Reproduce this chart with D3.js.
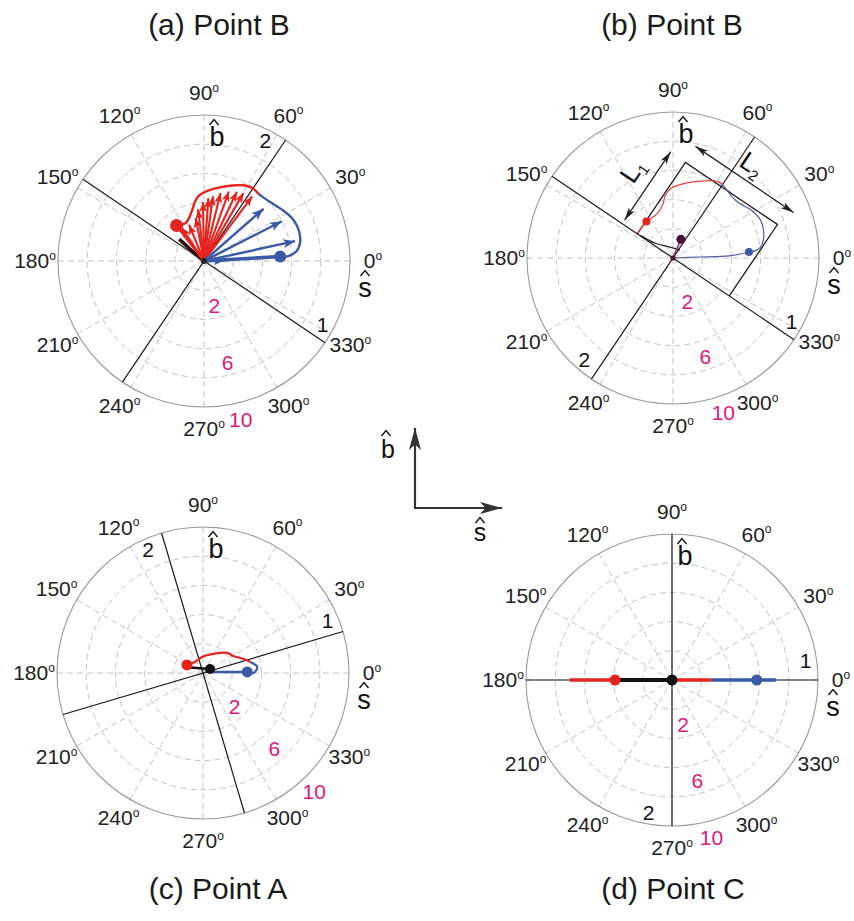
<!DOCTYPE html>
<html><head><meta charset="utf-8">
<script src="https://cdn.jsdelivr.net/npm/d3@7"></script>
<style>body{margin:0;background:#fff} svg{display:block} text{font-family:"Liberation Sans",Arial,sans-serif}</style>
</head><body><svg id="c" width="854" height="921"></svg>
<script>
// ---------------- data ----------------
const angleTicks = d3.range(0, 360, 30);
const ringValues = [2, 4, 6, 8];
const ringLabelValues = [2, 6, 10];
const panelTitles = ["(a) Point B", "(b) Point B", "(c) Point A", "(d) Point C"];
// principal directions (deg) per panel: [line "1", line "2"]
const dirA = [146, 56], dirB = [146, 56], dirC = [16.5, 106.5], dirD = [0, 90];
// label positions (deg) for "1" and "2"
const lblA = [-28.5, 63], lblB = [-28.5, 229], lblC = [22.7, 114], lblD = [8.2, 260];
// panel (a): vectors in (s,b) components
const aRedTips = [[-1.55,2.30],[-1.02,2.49],[-0.57,2.95],[-0.40,3.55],[-0.07,4.04],[0.30,4.30],[0.62,4.45],[1.13,4.65],[1.70,4.76],[2.25,4.74],[2.70,4.65],[3.30,4.42]];
const aBlueTips = [[1.47,0.05],[4.08,3.58],[5.33,2.72],[6.24,1.36]];
const aRedEnvelope = [[-1.88,2.43],[-1.25,2.61],[-0.84,3.40],[-0.61,4.08],[-0.34,4.49],[0.23,4.81],[1.02,5.03],[1.93,5.17],[2.83,5.17],[3.40,4.94],[3.74,4.58]];
const aBlueEnvelope = [[3.74,4.58],[4.53,4.04],[5.44,3.45],[6.12,2.83],[6.51,2.04],[6.58,1.25],[6.35,0.68],[5.78,0.34],[5.22,0.27]];
const aBlackCurve = [[-1.7,1.5],[-1.1,0.95],[-0.5,0.4],[0,0]];
const aRedDot = [-1.88, 2.43], aBlueDot = [5.22, 0.30];
// panel (b)
const bRedCurve = [[-2.43,1.69],[-1.82,2.50],[-1.08,3.04],[-0.68,3.72],[-0.54,4.26],[-0.20,4.73],[0.95,5.14],[2.03,5.27],[2.97,5.27],[3.38,5.07]];
const bBlueCurve = [[3.38,5.07],[4.32,3.92],[5.41,3.24],[6.01,2.57],[6.22,1.69],[6.08,0.88],[5.74,0.54],[5.20,0.41]];
const bBlueLine = [[0,0],[1.82,0.07],[3.85,0.14],[5.20,0.41]];
const bBlackCurve = [[-2.23,1.55],[-1.22,1.01],[-0.2,0.74],[0.47,0.54]];
const bRedDot = [-1.82, 2.50], bBlueDot = [5.20, 0.41], bDarkDot = [0.54, 1.28];
// (b) box in the rotated frame: v along line "1" (326 deg), u along line "2" (56 deg)
const bBoxV = [-2.95, 4.65], bBoxU = [0, 5.9];
const bL1 = {v: -4.2, u: [0.3, 5.95]}, bL2 = {u: 7.2, v: [-3.0, 5.1]};
// panel (c)
const cRedCurve = [[-1.10,0.55],[-0.55,0.75],[-0.07,1.10],[0.69,1.31],[1.66,1.38],[2.07,1.17],[2.76,0.97],[3.24,0.76]];
const cBlueCurve = [[3.24,0.76],[3.72,0.41],[3.45,0.0],[3.03,0.07]];
const cBlueLine = [[0.48,0.07],[3.03,0.07]];
const cBlackLine = [[-1.10,0.40],[0.48,0.28]];
const cRedDot = [-1.10, 0.55], cBlackDot = [0.48, 0.28], cBlueDot = [3.03, 0.07];
// panel (d)
const dRedLine = [[-7.0,0],[2.7,0]], dBlueLine = [[2.7,0],[7.1,0]], dBlackLine = [[-3.9,0],[0,0]];
const dRedDot = [-3.9, 0], dBlackDot = [0, 0], dBlueDot = [5.8, 0];

// ---------------- drawing ----------------
const RED = "#e5231f", BLUE = "#3b5aa6", BLACK = "#111", MAG = "#dc1780";
const R = 146;
const svg = d3.select("#c");
const defs = svg.append("defs");
function marker(id, color, len, wid) {
  defs.append("marker").attr("id", id).attr("viewBox", `0 0 ${len} ${wid}`)
    .attr("refX", len).attr("refY", wid / 2).attr("markerWidth", len).attr("markerHeight", wid)
    .attr("markerUnits", "userSpaceOnUse").attr("orient", "auto-start-reverse")
    .append("path").attr("d", `M0,0L${len},${wid/2}L0,${wid}L${len*0.25},${wid/2}Z`).attr("fill", color);
}
marker("arR", RED, 10, 8); marker("arB", BLUE, 12, 9); marker("arK", "#222", 13, 7); marker("arBig", "#333", 22, 12);

function hatText(g, x0, base, letter, size, hx, hy) {
  g.append("text").attr("x", x0).attr("y", base).attr("text-anchor", "middle")
    .attr("font-size", size).attr("fill", BLACK).text(letter);
  g.append("path").attr("d", `M${hx-4.5},${hy+3}L${hx},${hy-2.5}L${hx+4.5},${hy+3}`)
    .attr("fill", "none").attr("stroke", BLACK).attr("stroke-width", 1.4);
}

function panel(cx, cy, title, tx, ty, dirs, lbls, ringLblAng) {
  const g = svg.append("g");
  const x = d3.scaleLinear().domain([-10, 10]).range([cx - R, cx + R]);
  const y = d3.scaleLinear().domain([-10, 10]).range([cy + R, cy - R]);
  const rs = d3.scaleLinear().domain([0, 10]).range([0, R]);
  const pol = (a, r) => [x(r * Math.cos(a * Math.PI / 180)), y(r * Math.sin(a * Math.PI / 180))];
  // grid
  g.selectAll(".ring").data(ringValues).join("circle").attr("cx", cx).attr("cy", cy)
    .attr("r", d => rs(d)).attr("fill", "none").attr("stroke", "#c2c2c2").attr("stroke-dasharray", "6,4");
  g.selectAll(".spoke").data(angleTicks).join("line")
    .attr("x1", cx).attr("y1", cy).attr("x2", d => pol(d, 10)[0]).attr("y2", d => pol(d, 10)[1])
    .attr("stroke", "#c2c2c2").attr("stroke-dasharray", "6,4");
  g.append("circle").attr("cx", cx).attr("cy", cy).attr("r", rs(10)).attr("fill", "none").attr("stroke", "#9a9a9a").attr("stroke-width", 1.1);
  // angle labels
  const al = g.selectAll(".al").data(angleTicks).join("text")
    .attr("x", d => cx + (R + 23) * Math.cos(d * Math.PI / 180))
    .attr("y", d => cy - (R + 22) * Math.sin(d * Math.PI / 180) + 7)
    .attr("text-anchor", "middle").attr("font-size", 21).attr("fill", "#222");
  al.append("tspan").text(d => d);
  al.append("tspan").attr("font-size", 12).attr("dy", "-0.7em").text("o");
  // ring labels
  g.selectAll(".rl").data(ringLabelValues).join("text")
    .attr("x", d => cx + (rs(d) + 17) * Math.cos(ringLblAng * Math.PI / 180))
    .attr("y", d => cy - (rs(d) + 17) * Math.sin(ringLblAng * Math.PI / 180) + 7)
    .attr("text-anchor", "middle").attr("font-size", 21).attr("fill", MAG).text(d => d);
  // principal lines
  g.selectAll(".pl").data(dirs).join("line")
    .attr("x1", d => pol(d, 10)[0]).attr("y1", d => pol(d, 10)[1])
    .attr("x2", d => pol(d + 180, 10)[0]).attr("y2", d => pol(d + 180, 10)[1])
    .attr("stroke", "#1a1a1a").attr("stroke-width", 1.2);
  g.selectAll(".plab").data(lbls).join("text")
    .attr("x", d => pol(d, 9.25)[0]).attr("y", d => pol(d, 9.25)[1] + 7)
    .attr("text-anchor", "middle").attr("font-size", 21).attr("fill", BLACK).text((d, i) => i + 1);
  // axis labels
  hatText(g, cx + 13, cy - 115, "b", 27, cx + 10, cy - 139);
  hatText(g, cx + 161, cy + 36, "s", 27, cx + 161, cy + 12);
  // title
  svg.append("text").attr("x", tx).attr("y", ty).attr("text-anchor", "middle")
    .attr("font-size", 30).attr("fill", "#1a1a1a").text(title);
  return {g, x, y};
}
const line = (x, y, curve) => d3.line().x(d => x(d[0])).y(d => y(d[1])).curve(curve || d3.curveCatmullRom.alpha(0.5));
function dot(g, x, y, p, r, c) { g.append("circle").attr("cx", x(p[0])).attr("cy", y(p[1])).attr("r", r).attr("fill", c); }

// ---- (a)
{
  const {g, x, y} = panel(204, 261, panelTitles[0], 219, 35, dirA, lblA, -77);
  g.append("path").attr("d", line(x, y)(aBlackCurve)).attr("fill", "none").attr("stroke", "#2a1010").attr("stroke-width", 3.5);
  g.selectAll(".ra").data(aRedTips).join("line").attr("x1", x(0)).attr("y1", y(0))
    .attr("x2", d => x(d[0])).attr("y2", d => y(d[1])).attr("stroke", RED).attr("stroke-width", 2.1).attr("marker-end", "url(#arR)");
  g.selectAll(".ba").data(aBlueTips).join("line").attr("x1", x(0)).attr("y1", y(0))
    .attr("x2", d => x(d[0])).attr("y2", d => y(d[1])).attr("stroke", BLUE).attr("stroke-width", 2.4).attr("marker-end", "url(#arB)");
  g.append("line").attr("x1", x(0)).attr("y1", y(0)).attr("x2", x(aBlueDot[0])).attr("y2", y(aBlueDot[1])).attr("stroke", BLUE).attr("stroke-width", 3.5);
  g.append("path").attr("d", line(x, y)(aRedEnvelope)).attr("fill", "none").attr("stroke", RED).attr("stroke-width", 2.4);
  g.append("path").attr("d", line(x, y)(aBlueEnvelope)).attr("fill", "none").attr("stroke", BLUE).attr("stroke-width", 2.4);
  g.append("line").attr("x1", x(0)).attr("y1", y(0)).attr("x2", x(aRedDot[0])).attr("y2", y(aRedDot[1])).attr("stroke", RED).attr("stroke-width", 2.5);
  dot(g, x, y, aRedDot, 6.5, RED); dot(g, x, y, aBlueDot, 6, BLUE);
  dot(g, x, y, [0, 0], 3, "#222");
}
// ---- (b)
{
  const {g, x, y} = panel(673, 258, panelTitles[1], 672, 35, dirB, lblB, -72);
  const th = 56 * Math.PI / 180;
  const eu = [Math.cos(th), Math.sin(th)], ev = [Math.sin(th), -Math.cos(th)];
  const fr = (v, u) => [v * ev[0] + u * eu[0], v * ev[1] + u * eu[1]];
  const box = [fr(bBoxV[0], bBoxU[0]), fr(bBoxV[0], bBoxU[1]), fr(bBoxV[1], bBoxU[1]), fr(bBoxV[1], bBoxU[0])];
  g.append("path").attr("d", line(x, y, d3.curveLinear)(box)).attr("fill", "none").attr("stroke", "#1a1a1a").attr("stroke-width", 1.3);
  const l1 = [fr(bL1.v, bL1.u[0]), fr(bL1.v, bL1.u[1])], l2 = [fr(bL2.v[0], bL2.u), fr(bL2.v[1], bL2.u)];
  [l1, l2].forEach(s => g.append("line").attr("x1", x(s[0][0])).attr("y1", y(s[0][1])).attr("x2", x(s[1][0])).attr("y2", y(s[1][1]))
    .attr("stroke", "#222").attr("stroke-width", 1.3).attr("marker-start", "url(#arK)").attr("marker-end", "url(#arK)"));
  const p1 = fr(-5.6, 3.4), p2 = fr(0.9, 8.3);
  const t1 = g.append("text").attr("transform", `translate(${x(p1[0])},${y(p1[1])}) rotate(-56)`).attr("text-anchor", "middle").attr("dy", 8).attr("font-size", 26).attr("fill", BLACK);
  t1.append("tspan").text("L"); t1.append("tspan").attr("font-size", 15).attr("dy", 5).text("1");
  const t2 = g.append("text").attr("transform", `translate(${x(p2[0])},${y(p2[1])}) rotate(34)`).attr("text-anchor", "middle").attr("dy", 8).attr("font-size", 26).attr("fill", BLACK);
  t2.append("tspan").text("L"); t2.append("tspan").attr("font-size", 15).attr("dy", 5).text("2");
  g.append("path").attr("d", line(x, y)(bBlackCurve)).attr("fill", "none").attr("stroke", "#222").attr("stroke-width", 1.2);
  g.append("path").attr("d", line(x, y)(bBlueLine)).attr("fill", "none").attr("stroke", "#4a5fa8").attr("stroke-width", 1.2);
  g.append("path").attr("d", line(x, y)(bRedCurve)).attr("fill", "none").attr("stroke", "#e0433c").attr("stroke-width", 1.2);
  g.append("path").attr("d", line(x, y)(bBlueCurve)).attr("fill", "none").attr("stroke", "#4a5fa8").attr("stroke-width", 1.2);
  g.append("line").attr("x1", x(0)).attr("y1", y(0)).attr("x2", x(bDarkDot[0])).attr("y2", y(bDarkDot[1])).attr("stroke", "#9b1f6e").attr("stroke-width", 1.5);
  dot(g, x, y, bRedDot, 4, RED); dot(g, x, y, bBlueDot, 4, BLUE); dot(g, x, y, bDarkDot, 4.5, "#4a1036");
  dot(g, x, y, [0, 0], 2.5, "#4a1036");
}
// ---- (c)
{
  const {g, x, y} = panel(203, 673, panelTitles[2], 218, 899, dirC, lblC, -47);
  g.append("path").attr("d", line(x, y)(cRedCurve)).attr("fill", "none").attr("stroke", RED).attr("stroke-width", 2.2);
  g.append("path").attr("d", line(x, y)(cBlueCurve)).attr("fill", "none").attr("stroke", BLUE).attr("stroke-width", 2.2);
  g.append("path").attr("d", line(x, y, d3.curveLinear)(cBlueLine)).attr("fill", "none").attr("stroke", BLUE).attr("stroke-width", 2.5);
  g.append("path").attr("d", line(x, y, d3.curveLinear)(cBlackLine)).attr("fill", "none").attr("stroke", BLACK).attr("stroke-width", 2.5);
  dot(g, x, y, cRedDot, 5.5, RED); dot(g, x, y, cBlackDot, 5, BLACK); dot(g, x, y, cBlueDot, 5.5, BLUE);
}
// ---- (d)
{
  const {g, x, y} = panel(672, 680, panelTitles[3], 673, 899, dirD, lblD, -76);
  g.append("path").attr("d", line(x, y, d3.curveLinear)(dRedLine)).attr("stroke", RED).attr("stroke-width", 3.5);
  g.append("path").attr("d", line(x, y, d3.curveLinear)(dBlueLine)).attr("stroke", BLUE).attr("stroke-width", 3.5);
  g.append("path").attr("d", line(x, y, d3.curveLinear)(dBlackLine)).attr("stroke", BLACK).attr("stroke-width", 4);
  dot(g, x, y, dRedDot, 5.5, RED); dot(g, x, y, dBlackDot, 5.5, BLACK); dot(g, x, y, dBlueDot, 5.5, BLUE);
}
// ---- centre reference frame
{
  const g = svg.append("g");
  g.append("line").attr("x1", 415).attr("y1", 508).attr("x2", 415).attr("y2", 428).attr("stroke", "#333").attr("stroke-width", 2.2).attr("marker-end", "url(#arBig)");
  g.append("line").attr("x1", 414).attr("y1", 508).attr("x2", 502).attr("y2", 508).attr("stroke", "#333").attr("stroke-width", 2.2).attr("marker-end", "url(#arBig)");
  hatText(g, 388, 458, "b", 25, 386, 433);
  hatText(g, 480, 541, "s", 25, 480, 520);
}
</script></body></html>
